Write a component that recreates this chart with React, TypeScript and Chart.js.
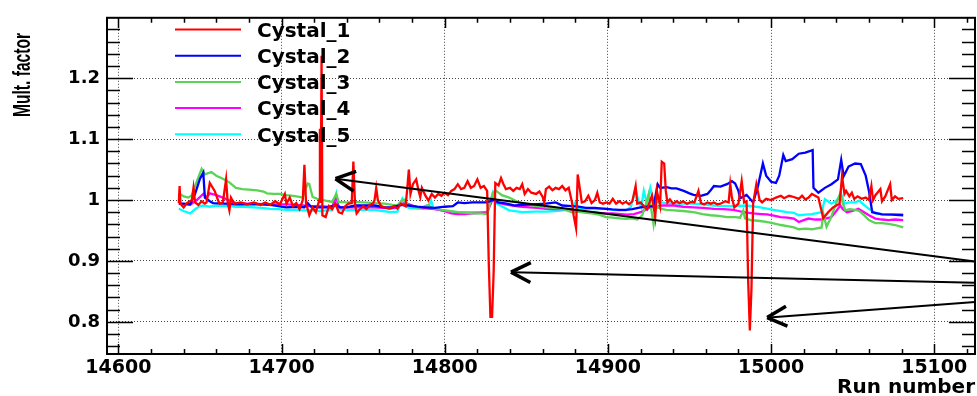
import React, { useEffect, useRef } from "react";
import { Chart, registerables } from "chart.js";
Chart.register(...registerables);

const xMin = 14593;
const xMax = 15125;
const yMin = 0.7472;
const yMax = 1.2992;
const xMajorStep = 100;
const xMinorStep = 20;
const yMajorStep = 0.1;
const yMinorStep = 0.02;

const xTitle = "Run number";
const yTitle = "Mult. factor";

const seriesLabels = ["Cystal_1", "Cystal_2", "Cystal_3", "Cystal_4", "Cystal_5"];
const seriesColors = ["#ff0000", "#0000ff", "#59d454", "#ff00ff", "#00ffff"];

const c1Runs = [
  14637, 14637.5, 14638, 14640, 14642, 14645, 14646, 14647, 14649, 14651, 14653, 14654, 14656, 14659, 14661, 14662,
  14664, 14666, 14667, 14668, 14669, 14671, 14675, 14679, 14683, 14687, 14690, 14693, 14696, 14699, 14702, 14703,
  14705, 14707, 14709, 14711, 14713, 14714, 14715, 14717, 14719, 14721, 14723, 14723.5, 14724, 14724.5, 14725, 14727,
  14729, 14731, 14733, 14735, 14737, 14739, 14741, 14743, 14744, 14745, 14746, 14748, 14750, 14752, 14754, 14756,
  14757, 14758, 14759, 14761, 14763, 14766, 14769, 14771, 14773, 14776, 14777, 14778, 14779, 14780.5, 14782.5, 14784,
  14785, 14786, 14788, 14790, 14792, 14794, 14796, 14798, 14800, 14802, 14804, 14806, 14808, 14810, 14812, 14814,
  14816, 14818, 14820, 14822, 14824, 14826, 14827, 14828, 14829, 14830, 14830.5, 14831, 14833, 14834.5, 14836, 14837.5,
  14840, 14842, 14844, 14846, 14847.5, 14849, 14851, 14853, 14856, 14858, 14860, 14861, 14862, 14864, 14866, 14868,
  14870, 14872, 14874, 14876, 14878, 14879, 14880.5, 14881.5, 14883, 14884, 14886, 14888, 14890, 14892, 14893.5, 14895,
  14897, 14899, 14901, 14903, 14905, 14907, 14909, 14911, 14913, 14915, 14917, 14918, 14920, 14922, 14924, 14926,
  14927, 14929, 14930, 14932, 14933, 14934.5, 14935.5, 14936.5, 14938, 14940, 14942, 14944, 14946, 14948.5, 14951, 14953,
  14955.5, 14957, 14959, 14961, 14963, 14965, 14967, 14969, 14972, 14974, 14975, 14976, 14977.5, 14980, 14982, 14983.5,
  14985, 14986, 14987, 14988, 14989, 14991, 14993, 14994.5, 14997, 15000, 15003, 15006, 15008, 15011, 15014, 15017,
  15019, 15021, 15023, 15025, 15029, 15032, 15035, 15038, 15042, 15043.5, 15045, 15046, 15048, 15049.5, 15051, 15053,
  15055.5, 15058, 15060, 15061.5, 15062.5, 15064, 15067, 15068, 15070, 15073, 15074, 15076, 15078, 15081,
];
const c1Vals = [
  0.995, 1.023, 0.994, 0.988, 0.995, 1.0, 1.02, 0.996, 0.992, 0.998, 0.994, 0.996, 1.028, 1.015, 1.0, 0.994,
  0.996, 1.034, 0.995, 0.983, 1.004, 0.994, 0.996, 0.993, 0.996, 0.992, 0.996, 0.992, 0.998, 0.993, 1.01, 0.994,
  1.004, 0.99, 0.995, 0.985, 1.0, 1.058, 0.995, 0.975, 0.988, 0.98, 0.999, 1.117, 0.995, 1.237, 0.975, 0.972,
  0.99, 0.985, 0.994, 0.98, 0.978, 0.99, 0.994, 0.995, 1.063, 0.994, 0.978, 0.985, 0.99, 0.985, 0.992, 0.994,
  1.0, 1.02, 1.0, 0.99, 0.988, 0.986, 0.99, 0.986, 0.994, 0.99, 1.018, 1.05, 1.01, 1.026, 1.034, 1.015,
  1.005, 1.02, 1.008, 0.999, 1.01, 1.004, 1.01, 1.007, 1.012, 1.008, 1.015, 1.018, 1.026, 1.018, 1.02, 1.031,
  1.02, 1.023, 1.034, 1.02, 1.023, 1.015, 0.895, 0.808, 0.808, 0.883, 0.96, 1.028, 1.024, 1.036, 1.026, 1.018,
  1.02, 1.015, 1.02, 1.018, 1.026, 1.01, 1.018, 1.012, 1.01, 1.014, 1.005, 0.996, 1.018, 1.022, 1.016, 1.02,
  1.018, 1.023, 1.016, 1.02, 0.996, 0.975, 0.954, 1.042, 1.015, 0.996, 0.998, 1.007, 0.995, 1.0, 1.012, 0.996,
  0.994, 0.996, 0.994, 1.002, 0.994, 0.998, 0.994, 0.997, 0.993, 0.998, 1.023, 0.994, 0.996, 0.99, 0.985, 1.0,
  1.007, 0.972, 1.015, 0.991, 1.063, 1.06, 1.015, 0.996, 1.001, 0.994, 0.998, 0.995, 0.998, 0.994, 0.997, 0.996,
  1.015, 0.995, 0.993, 0.996, 0.994, 0.996, 0.993, 0.994, 0.998, 0.996, 1.026, 1.004, 0.988, 0.994, 1.031, 0.996,
  0.998, 0.865, 0.786, 0.855, 0.994, 1.026, 1.0, 0.996, 1.002, 1.0, 1.004, 1.007, 1.003, 1.007, 1.005, 1.002,
  1.007, 1.001, 1.004, 1.01, 1.004, 0.97, 0.98, 0.988, 0.994, 1.039, 1.01, 1.015, 1.006, 1.012, 1.002, 1.006,
  1.002, 1.004, 1.0, 1.023, 1.0, 1.008, 1.018, 0.998, 1.006, 1.026, 1.0, 1.006, 1.002, 1.003,
];

const c2Runs = [
  14637, 14640, 14644, 14647, 14650, 14652, 14653, 14656, 14658, 14665, 14672, 14680, 14688, 14693, 14698, 14703,
  14709, 14714, 14716, 14718, 14723, 14728, 14733.5, 14736, 14740, 14745, 14750, 14757, 14763, 14768, 14773, 14778,
  14783, 14788, 14794, 14800, 14805, 14808, 14812, 14817, 14822, 14826, 14829.5, 14833, 14838, 14843, 14848, 14854,
  14862, 14868, 14872, 14878, 14882, 14886.5, 14892, 14897, 14902.5, 14907, 14911, 14915, 14920, 14924, 14928, 14930.5,
  14932, 14936, 14939, 14942, 14946.5, 14950, 14952.5, 14957, 14961, 14963, 14965, 14969, 14973, 14975, 14976, 14978,
  14980, 14981, 14985, 14989, 14992, 14995, 14997, 15000, 15003, 15005, 15007.5, 15009, 15013, 15017, 15021, 15025.5,
  15026, 15029, 15033, 15037, 15041, 15043, 15044.5, 15047.5, 15051.5, 15055, 15058, 15060, 15062, 15068, 15074, 15081,
];
const c2Vals = [
  0.994, 0.994, 0.993, 1.01, 1.035, 1.045, 1.004, 0.998, 0.995, 0.994, 0.993, 0.993, 0.993, 0.992, 0.99, 0.988,
  0.989, 0.988, 0.995, 0.989, 0.988, 0.988, 0.992, 0.988, 0.988, 0.991, 0.991, 0.991, 0.988, 0.988, 0.992, 0.991,
  0.989, 0.988, 0.987, 0.989, 0.99, 0.996, 0.995, 0.996, 0.996, 0.996, 1.0, 0.996, 0.994, 0.991, 0.992, 0.993,
  0.994, 0.996, 0.991, 0.99, 0.989, 0.987, 0.987, 0.986, 0.9845, 0.984, 0.984, 0.985, 0.988, 0.989, 0.99, 1.026,
  1.02, 1.021, 1.019, 1.019, 1.015, 1.011, 1.0085, 1.007, 1.01, 1.016, 1.023, 1.022, 1.026, 1.029, 1.031, 1.027,
  1.015, 1.003, 1.0085, 0.996, 1.023, 1.06, 1.04, 1.03, 1.028, 1.04, 1.074, 1.064, 1.067, 1.076, 1.078, 1.082,
  1.02, 1.012, 1.02, 1.026, 1.034, 1.066, 1.039, 1.055, 1.06, 1.059, 1.04, 1.015, 0.98, 0.9765, 0.976, 0.975,
];

const c3Runs = [
  14637, 14640, 14643, 14645, 14648, 14651, 14653, 14657, 14660, 14664, 14668, 14672, 14676, 14680, 14685, 14689,
  14691, 14695, 14699, 14703, 14707, 14711, 14713, 14715, 14716, 14717, 14719, 14722, 14727, 14731, 14733.5, 14735,
  14740, 14745, 14750, 14757, 14763, 14768, 14771, 14773.5, 14775, 14777, 14781, 14786, 14790, 14792, 14798, 14803,
  14808, 14813, 14818, 14822, 14826, 14829.5, 14831.5, 14835, 14839.5, 14845.5, 14852, 14857, 14862, 14867, 14872, 14878,
  14882, 14886.5, 14890, 14894.5, 14899, 14903, 14907, 14911, 14915, 14918, 14921, 14923, 14925, 14926, 14928, 14929.5,
  14932, 14936, 14940.5, 14946, 14952.5, 14958, 14963, 14968, 14973, 14978, 14981, 14983, 14984, 14987.5, 14992, 14997,
  15001, 15006, 15010, 15014, 15017, 15021, 15025, 15031, 15032, 15034, 15036.5, 15040, 15042.5, 15044, 15045.5, 15048,
  15051.5, 15054, 15057, 15060, 15064, 15068, 15072, 15076, 15081,
];
const c3Vals = [
  1.011, 1.006, 1.004, 1.008, 1.03, 1.051, 1.042, 1.046, 1.04, 1.035, 1.029, 1.02, 1.018, 1.017, 1.016, 1.014,
  1.011, 1.01, 1.01, 1.008, 1.007, 1.005, 1.004, 1.02, 1.027, 1.026, 1.005, 1.002, 0.999, 0.997, 1.01, 0.997,
  0.996, 0.997, 0.996, 0.995, 0.994, 0.992, 0.991, 0.999, 1.001, 0.993, 0.988, 0.988, 0.992, 0.987, 0.984, 0.982,
  0.98, 0.979, 0.978, 0.978, 0.977, 1.012, 1.015, 1.008, 1.004, 0.996, 0.992, 0.99, 0.988, 0.987, 0.986, 0.98,
  0.981, 0.979, 0.978, 0.976, 0.972, 0.971, 0.97, 0.969, 0.97, 0.968, 0.975, 0.99, 1.01, 0.995, 0.96, 0.99,
  0.986, 0.984, 0.983, 0.982, 0.98, 0.977, 0.975, 0.974, 0.972, 0.972, 0.971, 0.983, 0.97, 0.967, 0.966, 0.964,
  0.962, 0.959, 0.957, 0.955, 0.952, 0.953, 0.952, 0.955, 0.978, 0.956, 0.97, 0.995, 1.012, 0.995, 0.983, 0.985,
  0.984, 0.982, 0.975, 0.967, 0.962, 0.962, 0.961, 0.959, 0.955,
];

const c4Runs = [
  14637, 14641, 14644, 14648, 14652, 14654, 14656, 14660, 14664, 14668, 14672, 14677, 14683, 14690, 14697, 14703,
  14709, 14713, 14718, 14723, 14728, 14731, 14733.5, 14735, 14740, 14745, 14750, 14757, 14762, 14767, 14771, 14773.5,
  14777, 14781, 14786, 14790, 14794, 14798, 14801, 14804, 14808, 14812, 14817, 14822, 14826, 14829.5, 14832, 14837,
  14841.5, 14846, 14852, 14857, 14862, 14868, 14874, 14878, 14882, 14888, 14894.5, 14899, 14903, 14908, 14912, 14916,
  14920, 14924, 14927, 14929, 14932, 14936, 14940.5, 14946, 14952.5, 14958, 14965, 14971, 14977, 14980, 14983, 14989,
  14994, 14997.5, 15001, 15005.8, 15010, 15014, 15017, 15020, 15023, 15027, 15031, 15034, 15037, 15040, 15042.5, 15044,
  15046.5, 15050, 15053.5, 15057, 15060, 15064, 15068, 15072, 15076, 15081,
];
const c4Vals = [
  0.994, 0.993, 0.992, 1.0, 1.01, 1.004, 1.011, 1.008, 1.004, 0.999, 0.995, 0.994, 0.994, 0.993, 0.993, 0.993,
  0.992, 0.991, 0.99, 0.99, 0.989, 0.988, 1.007, 0.988, 0.988, 0.988, 0.988, 0.988, 0.987, 0.986, 0.988, 0.994,
  0.994, 0.99, 0.987, 0.986, 0.985, 0.983, 0.981, 0.978, 0.977, 0.977, 0.978, 0.979, 0.98, 1.002, 0.996, 0.993,
  0.991, 0.989, 0.988, 0.987, 0.9856, 0.985, 0.985, 0.982, 0.981, 0.98, 0.979, 0.978, 0.978, 0.977, 0.976, 0.977,
  0.98, 0.985, 0.99, 0.986, 0.991, 0.991, 0.991, 0.989, 0.988, 0.987, 0.9856, 0.985, 0.984, 0.982, 0.98, 0.978,
  0.977, 0.9765, 0.975, 0.972, 0.971, 0.9696, 0.964, 0.967, 0.9696, 0.968, 0.968, 0.97, 0.972, 0.982, 0.991, 0.985,
  0.98, 0.982, 0.9856, 0.98, 0.975, 0.9696, 0.968, 0.967, 0.968, 0.967,
];

const c5Runs = [
  14637, 14640, 14644, 14647, 14650, 14652, 14656, 14660, 14664, 14668, 14672, 14678, 14683, 14688, 14693, 14698,
  14703, 14708, 14713, 14718, 14723, 14728, 14731, 14733.5, 14735, 14740, 14745, 14750, 14757, 14762, 14767, 14771,
  14774, 14776, 14778, 14783, 14787, 14790, 14791.7, 14793, 14798, 14803, 14808, 14813, 14818, 14823, 14826, 14829.5,
  14831, 14834, 14839.5, 14847.5, 14855, 14862, 14868, 14872, 14876, 14878, 14880, 14882, 14886.5, 14893, 14899, 14903,
  14907, 14911, 14914, 14917, 14919, 14920.5, 14922, 14924, 14926, 14928, 14932, 14936, 14940.5, 14946, 14952.5, 14958,
  14965, 14971, 14977, 14985, 14993.5, 15001.5, 15009.8, 15014, 15017, 15021, 15025, 15031, 15033, 15037, 15040, 15043,
  15045, 15048, 15051.5, 15054, 15057, 15060, 15064, 15068, 15072, 15076, 15081,
];
const c5Vals = [
  0.9856, 0.982, 0.978, 0.985, 0.99, 0.991, 0.989, 0.991, 0.99, 0.99, 0.989, 0.989, 0.988, 0.987, 0.9856, 0.985,
  0.984, 0.984, 0.983, 0.983, 0.982, 0.983, 0.983, 1.01, 0.985, 0.983, 0.984, 0.984, 0.984, 0.982, 0.98, 0.981,
  1.002, 0.99, 0.987, 0.986, 0.9856, 0.99, 0.999, 0.986, 0.983, 0.981, 0.98, 0.98, 0.98, 0.98, 0.979, 1.012,
  0.995, 0.991, 0.983, 0.98, 0.981, 0.981, 0.982, 0.983, 0.984, 0.985, 0.996, 0.986, 0.9856, 0.985, 0.986, 0.984,
  0.983, 0.983, 0.988, 1.0176, 0.995, 0.988, 1.015, 0.994, 1.02, 0.997, 0.996, 0.995, 0.994, 0.994, 0.994, 0.993,
  0.991, 0.99, 0.99, 0.991, 0.988, 0.984, 0.98, 0.979, 0.975, 0.976, 0.977, 0.98, 1.0016, 0.994, 0.999, 1.0096,
  0.994, 0.996, 0.996, 0.999, 0.992, 0.9856, 0.978, 0.977, 0.9765, 0.977, 0.977,
];

const arrowTipRuns = [14733, 14840.6, 14997.6];
const arrowTipVals = [1.035, 0.8816, 0.807];
const arrowTailRuns = [15125, 15125, 15125];
const arrowTailVals = [0.899, 0.864, 0.8325];

const allRuns = [c1Runs, c2Runs, c3Runs, c4Runs, c5Runs];
const allVals = [c1Vals, c2Vals, c3Vals, c4Vals, c5Vals];

const FONT = "'DejaVu Sans', 'Liberation Sans', Arial, sans-serif";

const rootPlugin = {
  id: "rootDecor",
  afterDatasetsDraw(chart: any) {
    const ctx = chart.ctx as CanvasRenderingContext2D;
    const xs = chart.scales.x;
    const ys = chart.scales.y;
    const ca = chart.chartArea;
    ctx.save();

    // arrows
    ctx.strokeStyle = "#000";
    for (let i = 0; i < arrowTipRuns.length; i++) {
      const tx = xs.getPixelForValue(arrowTipRuns[i]);
      const ty = ys.getPixelForValue(arrowTipVals[i]);
      const ex = xs.getPixelForValue(arrowTailRuns[i]);
      const ey = ys.getPixelForValue(arrowTailVals[i]);
      const dx = ex - tx;
      const dy = ey - ty;
      const len = Math.hypot(dx, dy);
      const ux = dx / len;
      const uy = dy / len;
      ctx.lineWidth = 2;
      ctx.beginPath();
      ctx.moveTo(tx + ux * 2, ty + uy * 2);
      ctx.lineTo(ex, ey);
      ctx.stroke();
      const L = 22;
      const th = (27 * Math.PI) / 180;
      ctx.lineWidth = 3.5;
      ctx.beginPath();
      for (const s of [1, -1]) {
        const c = Math.cos(s * th);
        const sn = Math.sin(s * th);
        const ax = ux * c - uy * sn;
        const ay = ux * sn + uy * c;
        ctx.moveTo(tx + ax * L, ty + ay * L);
        ctx.lineTo(tx, ty);
      }
      ctx.stroke();
    }

    // frame
    ctx.lineWidth = 2;
    ctx.strokeStyle = "#000";
    ctx.strokeRect(ca.left, ca.top, ca.right - ca.left, ca.bottom - ca.top);

    // ticks
    ctx.lineWidth = 1.5;
    ctx.beginPath();
    const xMaj = (ca.bottom - ca.top) * 0.03;
    const yMaj = (ca.right - ca.left) * 0.03;
    for (let k = Math.ceil(xMin / xMinorStep); k * xMinorStep <= xMax; k++) {
      const v = k * xMinorStep;
      const px = Math.round(xs.getPixelForValue(v)) + 0.5;
      const major = v % xMajorStep === 0;
      const l = major ? xMaj : xMaj / 2;
      ctx.moveTo(px, ca.bottom);
      ctx.lineTo(px, ca.bottom - l);
      ctx.moveTo(px, ca.top);
      ctx.lineTo(px, ca.top + l);
    }
    const ratio = Math.round(yMajorStep / yMinorStep);
    for (let k = Math.ceil(yMin / yMinorStep); k * yMinorStep <= yMax; k++) {
      const v = k * yMinorStep;
      const py = Math.round(ys.getPixelForValue(v)) + 0.5;
      const major = k % ratio === 0;
      const l = major ? yMaj : yMaj / 2;
      ctx.moveTo(ca.left, py);
      ctx.lineTo(ca.left + l, py);
      ctx.moveTo(ca.right, py);
      ctx.lineTo(ca.right - l, py);
    }
    ctx.stroke();

    // legend
    const ds = chart.data.datasets;
    for (let i = 0; i < ds.length; i++) {
      const yy = 29.5 + i * 26.2;
      ctx.strokeStyle = ds[i].borderColor;
      ctx.lineWidth = 2;
      ctx.beginPath();
      ctx.moveTo(175, yy);
      ctx.lineTo(241, yy);
      ctx.stroke();
      ctx.fillStyle = "#000";
      ctx.font = `bold 20px ${FONT}`;
      ctx.textAlign = "left";
      ctx.textBaseline = "alphabetic";
      ctx.fillText(ds[i].label, 257, yy + 7.3);
    }

    // axis titles
    ctx.fillStyle = "#000";
    ctx.font = `bold 20px ${FONT}`;
    ctx.textAlign = "right";
    ctx.textBaseline = "alphabetic";
    ctx.fillText(xTitle, ca.right, 392.5);

    ctx.save();
    ctx.translate(29.5, 117);
    ctx.rotate(-Math.PI / 2);
    ctx.font = `bold 23px 'Liberation Sans', Arial, sans-serif`;
    const w = ctx.measureText(yTitle).width;
    ctx.scale(84 / w, 1);
    ctx.textAlign = "left";
    ctx.textBaseline = "alphabetic";
    ctx.fillText(yTitle, 0, 0);
    ctx.restore();

    ctx.restore();
  },
};

export default function App() {
  const ref = useRef<HTMLCanvasElement | null>(null);
  useEffect(() => {
    if (!ref.current) return;
    const datasets = seriesLabels.map((label, i) => ({
      label,
      data: allRuns[i].map((r, j) => ({ x: r, y: allVals[i][j] })),
      borderColor: seriesColors[i],
      backgroundColor: seriesColors[i],
      borderWidth: 2.3,
      pointRadius: 0,
      tension: 0,
      fill: false,
    }));
    const chart = new Chart(ref.current, {
      type: "line",
      data: { datasets },
      options: {
        animation: false,
        responsive: false,
        devicePixelRatio: 1,
        parsing: false as any,
        layout: { padding: { top: 9, right: 2, left: 0, bottom: 0 } },
        plugins: { legend: { display: false }, tooltip: { enabled: false }, title: { display: false } },
        scales: {
          x: {
            type: "linear",
            min: xMin,
            max: xMax,
            afterFit: (s: any) => {
              s.height = 42;
            },
            ticks: {
              stepSize: xMajorStep,
              includeBounds: false,
              maxRotation: 0,
              autoSkip: false,
              padding: 3,
              color: "#000",
              font: { family: FONT, weight: "bold", size: 19 },
              callback: (v: any) => String(v),
            },
            grid: { drawTicks: false, color: "#444", lineWidth: 1 },
            border: { display: false, dash: [1, 2] },
          },
          y: {
            type: "linear",
            min: yMin,
            max: yMax,
            afterFit: (s: any) => {
              s.width = 107;
            },
            ticks: {
              stepSize: yMajorStep,
              includeBounds: false,
              padding: 7,
              color: "#000",
              font: { family: FONT, weight: "bold", size: 18 },
              callback: (v: any) => String(Math.round(Number(v) * 10) / 10),
            },
            grid: { drawTicks: false, color: "#444", lineWidth: 1 },
            border: { display: false, dash: [1, 2] },
          },
        },
      } as any,
      plugins: [rootPlugin],
    });
    return () => chart.destroy();
  }, []);
  return (
    <div style={{ position: "fixed", left: 0, top: 0, width: 977, height: 396, background: "#fff" }}>
      <canvas ref={ref} width={977} height={396} style={{ display: "block" }} />
    </div>
  );
}
